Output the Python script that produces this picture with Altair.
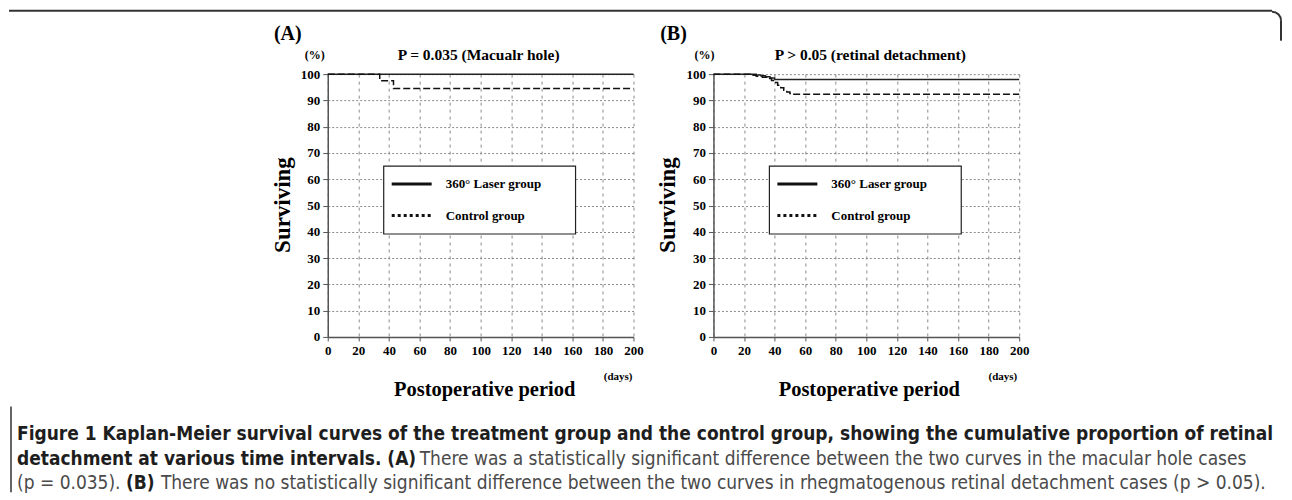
import altair as alt
import pandas as pd

groups = ["360° Laser group", "Control group"]

a_laser_days = [0, 200]
a_laser_surv = [100, 100]
a_ctrl_days = [0, 34, 43, 200]
a_ctrl_surv = [100, 97.5, 94.5, 94.5]

b_laser_days = [0, 28, 31, 34, 37, 40, 200]
b_laser_surv = [100, 99.7, 99.4, 99.0, 98.5, 98.0, 98.0]
b_ctrl_days = [0, 24, 28, 32, 36, 38, 40, 42, 44, 46, 48, 50, 52, 200]
b_ctrl_surv = [100, 99.6, 99.2, 98.8, 98.3, 97.6, 96.8, 95.8, 94.8, 93.9, 93.2, 92.6, 92.3, 92.3]

x_ticks = list(range(0, 201, 20))
y_ticks = list(range(0, 101, 10))

titles = ["P = 0.035 (Macualr hole)", "P > 0.05 (retinal detachment)"]
panel_labels = ["(A)", "(B)"]

caption_l1 = ("Figure 1 Kaplan-Meier survival curves of the treatment group and the control group, "
              "showing the cumulative proportion of retinal")
caption_l2a = "detachment at various time intervals. (A)"
caption_l2b = ("There was a statistically significant difference between the two curves "
               "in the macular hole cases")
caption_l3a = "(p = 0.035)."
caption_l3b = "(B)"
caption_l3c = ("There was no statistically significant difference between the two curves "
               "in rhegmatogenous retinal detachment cases (p > 0.05).")

SERIF = "Liberation Serif"
SANS = "DejaVu Sans Condensed, DejaVu Sans"
W, H = 306, 263


def frame(days1, surv1, days2, surv2):
    return pd.DataFrame({
        "day": days1 + days2,
        "surv": surv1 + surv2,
        "group": [groups[0]] * len(days1) + [groups[1]] * len(days2),
    })


def txt(s, x, y, size, weight="bold", font=SERIF, align="center", baseline="middle",
        color="black", angle=0):
    return alt.Chart(pd.DataFrame({"t": [s]})).mark_text(
        font=font, fontSize=size, fontWeight=weight, align=align, baseline=baseline,
        color=color, angle=angle
    ).encode(x=alt.value(x), y=alt.value(y), text="t:N")


def hrule(x1, x2, y, color="#333", width=1.5, dash=None):
    kw = dict(color=color, strokeWidth=width)
    if dash:
        kw["strokeDash"] = dash
    return alt.Chart(pd.DataFrame({"a": [0]})).mark_rule(**kw).encode(
        x=alt.value(x1), x2=alt.value(x2), y=alt.value(y))


def vrule(x, y1, y2, color="#333", width=1.5):
    return alt.Chart(pd.DataFrame({"a": [0]})).mark_rule(color=color, strokeWidth=width).encode(
        x=alt.value(x), y=alt.value(y1), y2=alt.value(y2))


xaxis = alt.Axis(values=x_ticks, grid=True, gridDash=[3, 4], gridColor="#8a8a8a", gridWidth=1,
                 domainColor="#555", domainWidth=1.5, tickColor="#555", tickSize=4,
                 labelFont=SERIF, labelFontWeight="bold", labelFontSize=13, labelColor="black",
                 labelPadding=4, labelFlush=False, title=None)
yaxis = alt.Axis(values=y_ticks, grid=True, gridDash=[2, 2], gridColor="#8a8a8a", gridWidth=1,
                 domainColor="#555", domainWidth=1.5, tickColor="#555", tickSize=5,
                 labelFont=SERIF, labelFontWeight="bold", labelFontSize=13, labelColor="black",
                 labelPadding=3, title=None)


def panel(df, label, title, pct_dx, title_dx, xl_dx, days_dx, extra=None):
    curves = alt.Chart(df).mark_line(interpolate="step-after", strokeWidth=1.5).encode(
        x=alt.X("day:Q", scale=alt.Scale(domain=[0, 200], nice=False, zero=False), axis=xaxis),
        y=alt.Y("surv:Q", scale=alt.Scale(domain=[0, 100], nice=False), axis=yaxis),
        strokeDash=alt.StrokeDash("group:N", scale=alt.Scale(domain=groups, range=[[1, 0], [7, 3]]),
                                  legend=None),
        color=alt.Color("group:N", scale=alt.Scale(domain=groups, range=["#222", "#111"]),
                        legend=None),
    )
    box = alt.Chart(pd.DataFrame({"a": [0]})).mark_rect(
        fill="white", stroke="#222", strokeWidth=1.2
    ).encode(x=alt.value(56), x2=alt.value(248), y=alt.value(92), y2=alt.value(160))
    layers = []
    if extra:
        layers += extra
    layers += [
        curves,
        box,
        hrule(64, 104, 110, color="#111", width=3),
        hrule(64, 104, 141.5, color="#111", width=3, dash=[3, 3]),
        txt(groups[0], 118, 110, 13, align="left"),
        txt(groups[1], 118, 141.5, 13, align="left"),
        txt(label, -40, -40, 20),
        txt("(%)", pct_dx, -19.5, 12),
        txt(title, title_dx, -19.5, 15.5),
        txt("Surviving", -45, 131, 23, angle=270),
        txt("Postoperative period", xl_dx, 316.5, 20.5),
        txt("(days)", days_dx, 303.5, 11, align="right"),
    ]
    return alt.layer(*layers).properties(width=W, height=H)


ox = -327   # page x of panel A origin
oy = -73.5  # page y of panel A origin

anchor = alt.Chart(pd.DataFrame({"a": [0]})).mark_rect(opacity=0).encode(
    x=alt.value(8 + ox), x2=alt.value(1284 + ox), y=alt.value(8 + oy), y2=alt.value(492 + oy))

corner = alt.Chart(pd.DataFrame({"a": [0]})).mark_arc(
    radius=10, radius2=8, theta=0, theta2=1.5708, color="#333"
).encode(x=alt.value(1272 + ox), y=alt.value(20 + oy))

cap_col_b = "#1e1e1e"
cap_col_r = "#4a4a4a"
CS = 19
extra_a = [
    anchor,
    hrule(8 + ox, 1272 + ox, 10 + oy, color="#333", width=2),
    corner,
    vrule(1281 + ox, 20 + oy, 40 + oy, color="#333", width=2),
    vrule(10 + ox, 406 + oy, 492 + oy, color="#333", width=1.5),
    txt(caption_l1, 16 + ox, 434 + oy, CS, font=SANS, align="left", color=cap_col_b),
    txt(caption_l2a, 16 + ox, 458.5 + oy, CS, font=SANS, align="left", color=cap_col_b),
    txt(caption_l2b, 419 + ox, 458.5 + oy, CS, weight="normal", font=SANS, align="left",
        color=cap_col_r),
    txt(caption_l3a, 16 + ox, 482.5 + oy, CS, weight="normal", font=SANS, align="left",
        color=cap_col_r),
    txt(caption_l3b, 125 + ox, 482.5 + oy, CS, font=SANS, align="left", color=cap_col_b),
    txt(caption_l3c, 160 + ox, 482.5 + oy, CS, weight="normal", font=SANS, align="left",
        color=cap_col_r),
]

pa = panel(frame(a_laser_days, a_laser_surv, a_ctrl_days, a_ctrl_surv),
           panel_labels[0], titles[0], -13, 151, 157, 305, extra=extra_a)
pb = panel(frame(b_laser_days, b_laser_surv, b_ctrl_days, b_ctrl_surv),
           panel_labels[1], titles[1], -9, 157, 156, 304)

chart = alt.hconcat(pa, pb, spacing=80, bounds="flush").properties(padding=0).configure_view(
    stroke=None).resolve_scale(x="independent", y="independent")

chart.save("out.html", embed_options={"renderer": "svg", "actions": False})
